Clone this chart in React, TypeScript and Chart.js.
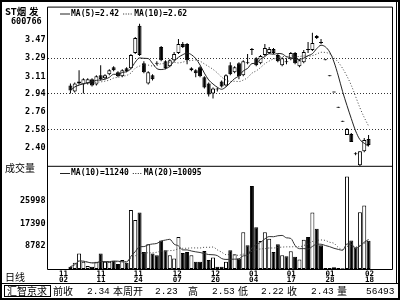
import React, { useEffect, useRef } from 'react';
import { Chart, registerables } from 'chart.js';

Chart.register(...registerables);

// ---------------- data ----------------
const stockName = 'ST烟';
const stockName2 = '发';
const stockCode = '600766';

const opens = [3.02, 2.96, 3.04, 3.03, 3.04, 3.08, 3.03, 3.12, 3.09, 3.13,
  3.20, 3.15, 3.11, 3.19, 3.19, 3.34, 3.61, 3.24, 3.04, 3.12,
  3.245, 3.40, 3.26, 3.21, 3.27, 3.34, 3.43, 3.43, 3.17, 3.17,
  3.20, 3.10, 3.04, 2.94, 2.99, 3.06, 3.02, 3.22, 3.15, 3.24,
  3.12, 3.25, 3.38, 3.29, 3.24, 3.32, 3.34, 3.38, 3.32, 3.22,
  3.26, 3.28, 3.34, 3.21, 3.25, 3.38, 3.37, 3.51, 3.45, 3.27,
  3.11, 2.95, 2.80, 2.66, 2.53, 2.54, 2.35, 2.23, 2.37, 2.49];
const highs = [3.04, 3.05, 3.17, 3.09, 3.09, 3.09, 3.12, 3.22, 3.13, 3.18,
  3.21, 3.16, 3.18, 3.20, 3.33, 3.50, 3.63, 3.26, 3.16, 3.13,
  3.26, 3.41, 3.27, 3.28, 3.35, 3.48, 3.45, 3.44, 3.20, 3.18,
  3.21, 3.11, 3.05, 3.00, 3.00, 3.07, 3.13, 3.25, 3.21, 3.25,
  3.27, 3.33, 3.39, 3.30, 3.32, 3.43, 3.40, 3.39, 3.33, 3.30,
  3.29, 3.35, 3.35, 3.28, 3.37, 3.45, 3.54, 3.52, 3.48, 3.27,
  3.11, 2.95, 2.80, 2.66, 2.60, 2.55, 2.36, 2.37, 2.50, 2.53];
const lows = [2.94, 2.95, 3.03, 2.94, 3.03, 3.01, 3.02, 3.07, 3.08, 3.12,
  3.16, 3.10, 3.10, 3.15, 3.18, 3.33, 3.31, 3.14, 3.03, 3.07,
  3.22, 3.26, 3.18, 3.20, 3.26, 3.33, 3.39, 3.23, 3.16, 3.10,
  3.10, 2.99, 2.91, 2.89, 2.96, 3.00, 3.01, 3.12, 3.14, 3.08,
  3.11, 3.23, 3.32, 3.21, 3.23, 3.31, 3.33, 3.33, 3.25, 3.21,
  3.23, 3.27, 3.23, 3.20, 3.24, 3.34, 3.36, 3.48, 3.43, 3.27,
  3.11, 2.95, 2.80, 2.66, 2.53, 2.46, 2.33, 2.22, 2.36, 2.42];
const closes = [2.97, 3.04, 3.06, 3.08, 3.08, 3.02, 3.11, 3.08, 3.12, 3.17,
  3.17, 3.11, 3.17, 3.16, 3.32, 3.49, 3.32, 3.15, 3.15, 3.08,
  3.235, 3.27, 3.19, 3.27, 3.33, 3.43, 3.40, 3.27, 3.19, 3.14,
  3.11, 3.00, 2.93, 2.99, 2.98, 3.01, 3.12, 3.13, 3.20, 3.11,
  3.26, 3.24, 3.37, 3.22, 3.31, 3.39, 3.38, 3.34, 3.26, 3.29,
  3.25, 3.34, 3.24, 3.27, 3.35, 3.37, 3.44, 3.49, 3.44, 3.27,
  3.11, 2.95, 2.80, 2.66, 2.59, 2.46, 2.34, 2.37, 2.48, 2.43];
const volumes = [900, 2370, 5900, 2750, 1130, 900, 2750, 5900, 2750, 2750,
  3120, 1880, 3380, 2370, 22440, 18680, 21550, 6500, 9400, 5900,
  5260, 10900, 7140, 5260, 4010, 12150, 6140, 6500, 5260, 2750,
  2750, 6890, 3380, 4390, 900, 900, 2750, 7140, 5640, 4010,
  14030, 9020, 31580, 15900, 10650, 14030, 11530, 6500, 9400, 5260,
  4890, 6770, 4640, 3630, 11150, 12200, 21500, 15300, 9037, 380,
  380, 630, 380, 300, 35200, 10870, 8150, 21600, 24150, 10743];

const dateLabels = [['11', '02'], ['11', '11'], ['11', '24'], ['12', '07'], ['12', '20'],
  ['01', '04'], ['01', '17'], ['01', '28'], ['02', '18']];
const priceTicks = [2.40, 2.58, 2.76, 2.94, 3.11, 3.29, 3.47];
const volumeTicks = [8782, 17390, 25998];
const weekStart = 67; // first trading day of the current week

// ---------------- layout constants ----------------
const DATE_TICK_AT = [-1.6, 7.06, 15.7, 24.7, 33.6, 42.4, 51.1, 60.1, 69.2];
const MONO = '"DejaVu Sans Mono", monospace';
const CJK = '"Noto Sans CJK SC", sans-serif';
const COURIER = '"Liberation Mono", monospace';

function movingAverage(values: number[], n: number): number[] {
  return values.map((_, i) => {
    const s = Math.max(0, i - n + 1);
    const w = values.slice(s, i + 1);
    return w.reduce((a, b) => a + b, 0) / w.length;
  });
}

export default function App() {
  const ref = useRef<HTMLCanvasElement | null>(null);

  useEffect(() => {
    document.body.style.margin = '0';
    const canvas = ref.current;
    if (!canvas) return;

    const idx = closes.map((_, i) => i);
    const isUp = idx.map((i) => closes[i] > opens[i]);
    const ma5 = movingAverage(closes, 5);
    const ma10 = movingAverage(closes, 10);
    const vma10 = movingAverage(volumes, 10);
    const vma20 = movingAverage(volumes, 20);
    const last = closes.length - 1;

    const priceLegend = [
      { text: `MA(5)=${ma5[last].toFixed(2)}`, dashed: false },
      { text: `MA(10)=${ma10[last].toFixed(2)}`, dashed: true },
    ];
    const volLegend = [
      { text: `MA(10)=${Math.round(vma10[last])}`, dashed: false },
      { text: `MA(20)=${Math.round(vma20[last])}`, dashed: true },
    ];
    const wk = idx.slice(weekStart);
    const info = {
      prev: closes[weekStart - 1].toFixed(2),
      open: opens[weekStart].toFixed(2),
      high: Math.max(...wk.map((i) => highs[i])).toFixed(2),
      low: Math.min(...wk.map((i) => lows[i])).toFixed(2),
      close: closes[last].toFixed(2),
      vol: String(wk.reduce((a, i) => a + volumes[i], 0)),
    };

    const drawLegend = (ctx: CanvasRenderingContext2D, x: number, y: number, items: { text: string; dashed: boolean }[]) => {
      let cx = x;
      items.forEach((it) => {
        ctx.beginPath();
        ctx.setLineDash(it.dashed ? [1, 1.5] : []);
        ctx.moveTo(cx, y + 0.5);
        ctx.lineTo(cx + 10, y + 0.5);
        ctx.stroke();
        ctx.setLineDash([]);
        ctx.fillText(it.text, cx + 11, y);
        cx += 11 + ctx.measureText(it.text).width + 4;
      });
    };

    const framePlugin = {
      id: 'frame',
      beforeDraw(chart: any) {
        const ctx = chart.ctx;
        ctx.save();
        ctx.fillStyle = '#fff';
        ctx.fillRect(0, 0, chart.width, chart.height);
        ctx.restore();
      },
      afterDraw(chart: any) {
        const ctx: CanvasRenderingContext2D = chart.ctx;
        const ca = chart.chartArea;
        const yv = chart.scales.yv;
        const L = ca.left - 0.5;
        const R = ca.right;
        const T = ca.top - 0.5;
        const B = ca.bottom + 0.5;
        const S = yv.top - 0.5;
        ctx.save();
        ctx.strokeStyle = '#000';
        ctx.fillStyle = '#000';
        ctx.lineWidth = 1;
        ctx.beginPath();
        ctx.rect(L, T, R - L, B - T);
        ctx.moveTo(L, S);
        ctx.lineTo(R, S);
        ctx.moveTo(396.5, 0);
        ctx.lineTo(396.5, 283.5);
        ctx.moveTo(0, 283.5);
        ctx.lineTo(400, 283.5);
        ctx.stroke();
        ctx.strokeRect(4.5, 285.5, 46, 11);
        ctx.lineWidth = 2;
        ctx.strokeRect(1, 1, 398, 298);
        ctx.lineWidth = 1;

        ctx.textBaseline = 'middle';
        ctx.textAlign = 'left';
        // header
        ctx.font = `bold 9.5px ${CJK}`;
        ctx.fillText(stockName, 5, 11);
        ctx.fillText(stockName2, 29, 11);
        ctx.font = `bold 8.5px ${MONO}`;
        ctx.fillText(stockCode, 11, 22);
        // legends
        ctx.font = `bold 8px ${MONO}`;
        ctx.strokeStyle = '#222';
        drawLegend(ctx, 60, 13.5, priceLegend);
        drawLegend(ctx, 60, 173, volLegend);
        // side labels
        ctx.font = `10px ${CJK}`;
        ctx.fillText('成交量', 5, 168);
        ctx.fillText('日线', 5, 277);
        // info row
        const ry = 291;
        ctx.font = `10px ${CJK}`;
        ctx.fillText('汇智京求', 7, ry);
        ctx.fillText('前收', 53, ry);
        ctx.fillText('本周开', 113, ry);
        ctx.fillText('高', 188, ry);
        ctx.fillText('低', 238, ry);
        ctx.fillText('收', 287, ry);
        ctx.fillText('量', 337, ry);
        ctx.font = `9.5px ${COURIER}`;
        ctx.fillText(info.prev, 87, ry);
        ctx.fillText(info.open, 155, ry);
        ctx.fillText(info.high, 212, ry);
        ctx.fillText(info.low, 261, ry);
        ctx.fillText(info.close, 311, ry);
        ctx.fillText(info.vol, 366, ry);
        ctx.restore();
      },
    };

    const tickFont = { family: MONO, size: 8.5, weight: 'bold' as const };

    const chart = new Chart(canvas, {
      type: 'bar',
      data: {
        datasets: [
          {
            type: 'line', label: 'MA5', yAxisID: 'y', order: 0,
            data: idx.map((i) => ({ x: i, y: ma5[i] })),
            borderColor: '#222', borderWidth: 1, pointRadius: 0, cubicInterpolationMode: 'monotone',
          },
          {
            type: 'line', label: 'MA10', yAxisID: 'y', order: 0,
            data: idx.map((i) => ({ x: i, y: ma10[i] })),
            borderColor: '#444', borderWidth: 1, borderDash: [1, 2], pointRadius: 0, cubicInterpolationMode: 'monotone',
          },
          {
            type: 'bar', label: 'wick', yAxisID: 'y', order: 3, grouped: false,
            data: idx.map((i) => ({ x: i, y: [lows[i], highs[i]] })),
            backgroundColor: '#000', borderWidth: 0, barThickness: 1, minBarLength: 1, inflateAmount: 0,
          },
          {
            type: 'bar', label: 'body', yAxisID: 'y', order: 2, grouped: false,
            data: idx.map((i) => ({ x: i, y: [opens[i], closes[i]] })),
            backgroundColor: idx.map((i) => (isUp[i] ? '#fff' : '#000')),
            borderColor: '#000', borderWidth: 1, borderSkipped: false, barThickness: 4, minBarLength: 1, inflateAmount: 0,
          },
          {
            type: 'bar', label: 'volume', yAxisID: 'yv', order: 2, grouped: false,
            data: idx.map((i) => ({ x: i, y: volumes[i] })),
            backgroundColor: idx.map((i) => (isUp[i] ? '#fff' : '#000')),
            borderColor: '#000', borderWidth: 1, borderSkipped: false, barThickness: 4, inflateAmount: 0,
          },
          {
            type: 'line', label: 'VMA10', yAxisID: 'yv', order: 0,
            data: idx.map((i) => ({ x: i, y: vma10[i] })),
            borderColor: '#333', borderWidth: 1, pointRadius: 0, cubicInterpolationMode: 'monotone',
          },
          {
            type: 'line', label: 'VMA20', yAxisID: 'yv', order: 0,
            data: idx.map((i) => ({ x: i, y: vma20[i] })),
            borderColor: '#444', borderWidth: 1, borderDash: [1, 2], pointRadius: 0, cubicInterpolationMode: 'monotone',
          },
        ] as any,
      },
      options: {
        responsive: false,
        devicePixelRatio: 1,
        animation: false,
        events: [],
        layout: { padding: { left: 0, right: 7.5, top: 3, bottom: 16 } },
        plugins: { legend: { display: false }, tooltip: { enabled: false } },
        scales: {
          x: {
            type: 'linear', position: 'bottom', min: -0.761, max: 70.11,
            grid: { display: false, drawTicks: false },
            border: { display: false },
            afterBuildTicks: (s: any) => { s.ticks = DATE_TICK_AT.map((v) => ({ value: v })); },
            afterFit: (s: any) => { s.height = 15; },
            ticks: {
              autoSkip: false, maxRotation: 0, minRotation: 0, padding: 2, color: '#000',
              font: { family: MONO, size: 7.5, weight: 'bold', lineHeight: 0.8 },
              callback: (_v: any, i: number) => dateLabels[i],
            },
          },
          y: {
            type: 'linear', position: 'left', stack: 'panels', stackWeight: 162, weight: 2,
            min: 2.215, max: 3.79,
            afterBuildTicks: (s: any) => { s.ticks = priceTicks.map((v) => ({ value: v })); },
            afterFit: (s: any) => { s.width = 48; },
            grid: {
              drawTicks: false, lineWidth: 1,
              color: (c: any) => (c.index % 2 === 1 ? '#333' : 'rgba(0,0,0,0)'),
            },
            border: { display: false, dash: [1, 2] },
            ticks: {
              autoSkip: false, padding: 2.5, color: '#000', font: tickFont,
              callback: (v: any) => Number(v).toFixed(2),
            },
          },
          yv: {
            type: 'linear', position: 'left', stack: 'panels', stackWeight: 104, weight: 1,
            min: 0, max: 38922,
            afterBuildTicks: (s: any) => { s.ticks = volumeTicks.map((v) => ({ value: v })); },
            afterFit: (s: any) => { s.width = 48; },
            grid: { display: false, drawTicks: false },
            border: { display: false },
            ticks: {
              autoSkip: false, padding: 2.5, color: '#000', font: tickFont,
              callback: (v: any) => String(v),
            },
          },
        } as any,
      },
      plugins: [framePlugin],
    });

    return () => chart.destroy();
  }, []);

  return (
    <canvas ref={ref} width={400} height={300} style={{ display: 'block', width: 400, height: 300 }} />
  );
}
